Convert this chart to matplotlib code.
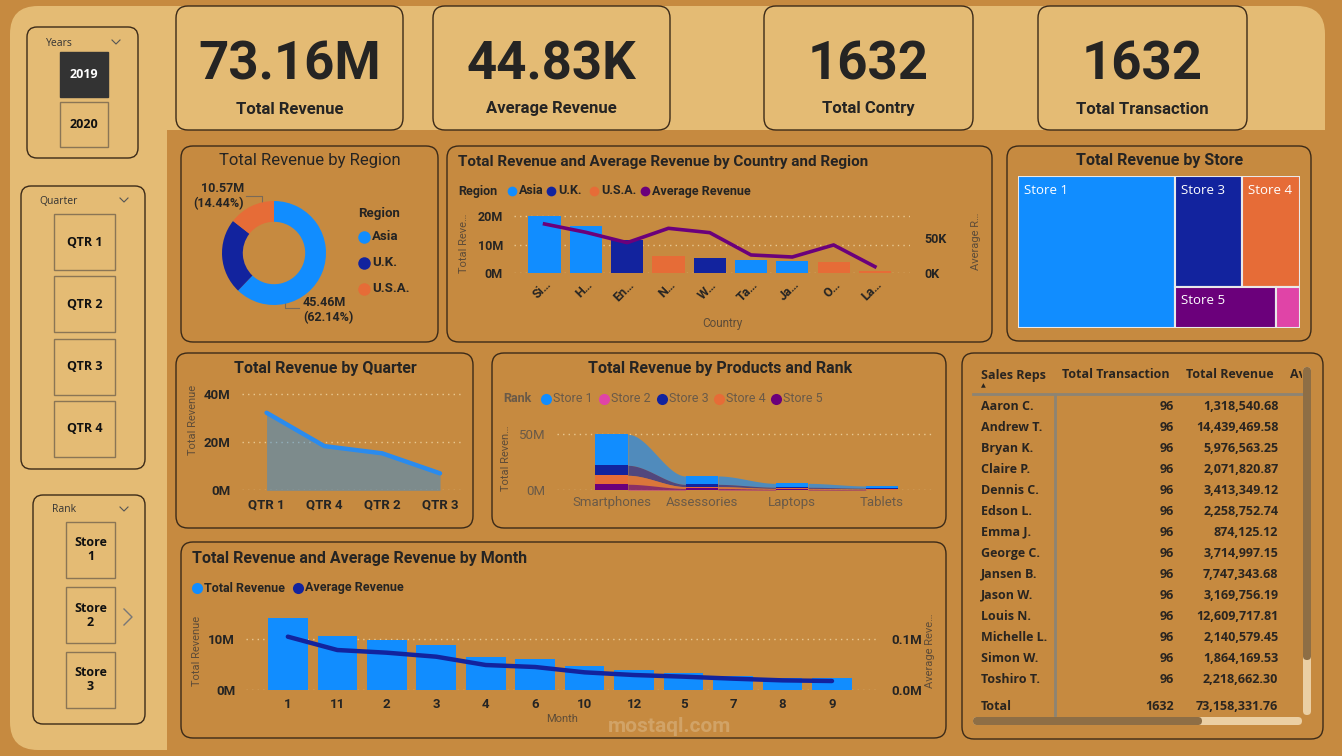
import numpy as np
import matplotlib
matplotlib.use("Agg")
import matplotlib.pyplot as plt
from matplotlib.patches import FancyBboxPatch, Rectangle
from matplotlib.transforms import Bbox, TransformedBbox

# ---------------- data ----------------
kpi_values = ["73.16M", "44.83K", "1632", "1632"]
kpi_labels = ["Total Revenue", "Average Revenue", "Total Contry", "Total Transaction"]

years = ["2019", "2020"]
quarter_buttons = ["QTR 1", "QTR 2", "QTR 3", "QTR 4"]
rank_buttons = ["Store\n1", "Store\n2", "Store\n3"]

regions = ["Asia", "U.K.", "U.S.A."]
region_revenue = [45.458, 17.132, 10.566]  # millions

countries = ["Si…", "H…", "En…", "N…", "W…", "Ta…", "Ja…", "O…", "La…"]
country_region = ["Asia", "Asia", "U.K.", "U.S.A.", "U.K.", "Asia", "Asia", "U.S.A.", "U.S.A."]
country_revenue = [20.0, 16.5, 11.6, 6.0, 5.5, 4.7, 4.4, 3.8, 0.9]      # millions
country_avg = [70.5, 58.6, 43.8, 64.3, 58.1, 26.2, 23.3, 40.5, 9.5]     # thousands

stores = ["Store 1", "Store 3", "Store 4", "Store 5", "Store 2"]
store_revenue = [40.73, 12.69, 10.99, 7.07, 1.68]

quarters = ["QTR 1", "QTR 4", "QTR 2", "QTR 3"]
quarter_revenue = [32.3, 18.4, 15.4, 7.06]

products = ["Smartphones", "Assessories", "Laptops", "Tablets"]
rank_names = ["Store 1", "Store 2", "Store 3", "Store 4", "Store 5"]
store1_products = [27.7, 7.5, 3.5, 2.0]
store2_products = [0.6, 0.5, 0.3, 0.2]
store3_products = [8.9, 2.0, 1.0, 0.8]
store4_products = [8.0, 1.6, 0.8, 0.5]
store5_products = [4.8, 1.2, 0.6, 0.4]

months = ["1", "11", "2", "3", "4", "6", "10", "12", "5", "7", "8", "9"]
month_revenue = [13.96, 10.45, 9.74, 8.70, 6.49, 5.97, 4.68, 3.90, 3.25, 2.79, 2.34, 2.27]  # millions
month_avg = [103.9, 77.9, 72.7, 64.9, 48.7, 44.8, 34.4, 29.2, 26.0, 22.1, 18.8, 17.5]       # thousands

sales_reps = ["Aaron C.", "Andrew T.", "Bryan K.", "Claire P.", "Dennis C.", "Edson L.", "Emma J.",
              "George C.", "Jansen B.", "Jason W.", "Louis N.", "Michelle L.", "Simon W.", "Toshiro T."]
rep_transactions = [96, 96, 96, 96, 96, 96, 96, 96, 96, 96, 96, 96, 96, 96]
rep_revenue = [1318540.68, 14439469.58, 5976563.25, 2071820.87, 3413349.12, 2258752.74, 874125.12,
               3714997.15, 7747343.68, 3169756.19, 12609717.81, 2140579.45, 1864169.53, 2218662.30]
total_transactions = 1632
total_revenue = 73158331.76

# ---------------- style ----------------
W, H = 1342, 756
BG = "#C68A40"
LIGHT = "#E4BB74"
DARK = "#252423"
EDGE = "#3B2A18"
GRAY = "#5E4C38"
GRID = "#E8C891"
C_ASIA, C_UK, C_USA = "#118DFF", "#12239E", "#E66C37"
C_PURPLE, C_PINK = "#6B007B", "#E044A7"
region_colors = {"Asia": C_ASIA, "U.K.": C_UK, "U.S.A.": C_USA}
store_colors = {"Store 1": C_ASIA, "Store 2": C_PINK, "Store 3": C_UK, "Store 4": C_USA, "Store 5": C_PURPLE}
TF = ["Roboto", "DejaVu Sans"]
SF = ["Open Sans", "DejaVu Sans"]

fig = plt.figure(figsize=(W / 100, H / 100), dpi=100, facecolor=BG)
bg = fig.add_axes([0, 0, 1, 1])
bg.set_xlim(0, W)
bg.set_ylim(H, 0)
bg.axis("off")


def rbox(x0, y0, x1, y1, r=10, fc=BG, ec=EDGE, lw=1.0, z=2):
    p = FancyBboxPatch((x0 + r, y0 + r), x1 - x0 - 2 * r, y1 - y0 - 2 * r,
                       boxstyle=f"round,pad={r}", fc=fc, ec=ec, lw=lw, zorder=z)
    bg.add_patch(p)


def axpx(x0, y0, x1, y1):
    a = fig.add_axes([x0 / W, 1 - y1 / H, (x1 - x0) / W, (y1 - y0) / H])
    a.set_facecolor("none")
    for s in a.spines.values():
        s.set_visible(False)
    return a


def txt(x, y, s, size=10, weight="normal", color=DARK, ha="left", va="center", family=TF, **kw):
    return bg.text(x, y, s, fontsize=size, fontweight=weight, color=color, ha=ha, va=va,
                   family=family, zorder=kw.pop("zorder", 6), **kw)


def dot(x, y, c, ms=7):
    bg.plot([x], [y], "o", color=c, ms=ms, mec="none", zorder=6)


def style_axis(a, size=9, weight="bold", color=DARK, family=TF):
    a.tick_params(length=0, labelsize=size, labelcolor=color)
    for lab in a.get_xticklabels() + a.get_yticklabels():
        lab.set_fontweight(weight)
        lab.set_family(family)


# ---------------- backgrounds ----------------
rbox(10, 6, 1325, 750, r=28, fc=LIGHT, ec="none", z=1)
bg.add_patch(Rectangle((167, 130), W - 167, H - 130, fc=BG, ec="none", zorder=1.5))

# KPI cards
kpi_x = [(176, 403), (433, 670), (764, 973), (1038, 1247)]
for (x0, x1), v, lab in zip(kpi_x, kpi_values, kpi_labels):
    rbox(x0, 6, x1, 130, r=12, fc=LIGHT)
    cx = (x0 + x1) / 2
    txt(cx, 65, v, size=38, weight="bold", ha="center")
    txt(cx, 109, lab, size=12, weight="bold", ha="center")


def chevron_down(x, y):
    bg.plot([x - 4, x, x + 4], [y - 2, y + 2, y - 2], color="#555", lw=0.8, zorder=6)


# Years slicer
rbox(27, 27, 138, 158, r=10, fc=LIGHT)
txt(46, 43, "Years", size=7.5, color="#333", family=SF)
chevron_down(116, 42)
for i, yv in enumerate(years):
    top = 52 + i * 50
    sel = i == 0
    bg.add_patch(Rectangle((60, top), 48, 45, fc="#333333" if sel else LIGHT,
                           ec="#333333" if sel else "#8A7555", lw=1, zorder=3))
    txt(84, top + 23, yv, size=9, weight="bold", color="white" if sel else "#111", ha="center", family=SF)

# Quarter slicer
rbox(21, 186, 145, 469, r=10, fc=LIGHT)
txt(39, 201, "Quarter", size=7.5, color="#333", family=SF)
chevron_down(124, 200)
for i, q in enumerate(quarter_buttons):
    top = 214 + i * 62.3
    bg.add_patch(Rectangle((54, top), 61, 56, fc=LIGHT, ec="#8A7555", lw=1, zorder=3))
    txt(84.5, top + 28, q, size=9, weight="bold", color="#111", ha="center", family=SF)

# Rank slicer
rbox(33, 495, 145, 724, r=10, fc=LIGHT)
txt(52, 510, "Rank", size=7.5, color="#333", family=SF)
chevron_down(124, 509)
for i, rname in enumerate(rank_buttons):
    top = 522 + i * 65
    bg.add_patch(Rectangle((66, top), 49, 56, fc=LIGHT, ec="#8A7555", lw=1, zorder=3))
    txt(90.5, top + 28, rname, size=9, weight="bold", color="#111", ha="center", family=SF,
        linespacing=1.1)
bg.plot([124, 132, 124], [609, 617, 625], color="#777", lw=1, zorder=6)

# chart cards
for box in [(181, 146, 438, 342), (447, 146, 992, 342), (1007, 146, 1311, 341),
            (176, 353, 473, 528), (492, 353, 946, 528), (181, 542, 946, 738),
            (962, 353, 1323, 739)]:
    rbox(*box, r=12, fc=BG)

# ---------------- donut: revenue by region ----------------
txt(310, 161, "Total Revenue by Region", size=12, ha="center")
ax = axpx(222, 201, 326, 305)
ax.pie(region_revenue, colors=[region_colors[r] for r in regions], startangle=90,
       counterclock=False, wedgeprops=dict(width=0.4, edgecolor="none"), radius=1)
ax.set_xlim(-1, 1)
ax.set_ylim(-1, 1)
tot = sum(region_revenue)
lab_usa = f"{region_revenue[2]:.2f}M\n({region_revenue[2] / tot * 100:.2f}%)"
lab_asia = f"{region_revenue[0]:.2f}M\n({region_revenue[0] / tot * 100:.2f}%)"
txt(244, 196, lab_usa, size=9, weight="bold", ha="right", linespacing=1.15)
txt(303, 310, lab_asia, size=9, weight="bold", ha="left", linespacing=1.15)
bg.plot([246, 262, 262], [196, 196, 202], color="#7A6A58", lw=0.8, zorder=6)
bg.plot([285, 285, 299], [303, 308, 308], color="#7A6A58", lw=0.8, zorder=6)
txt(358, 214, "Region", size=9.5, weight="bold")
for r, yy in zip(regions, [237, 263, 289]):
    dot(364, yy, region_colors[r], ms=9)
    txt(372, yy, r, size=9.5, weight="bold")

# ---------------- country chart ----------------
txt(458, 162, "Total Revenue and Average Revenue by Country and Region", size=11, weight="bold")
txt(458, 191, "Region", size=9, weight="bold")
leg = [("Asia", C_ASIA, 512, 519), ("U.K.", C_UK, 551, 558), ("U.S.A.", C_USA, 594, 601),
       ("Average Revenue", C_PURPLE, 645, 652)]
for lab, c, dx, tx in leg:
    dot(dx, 191, c, ms=7)
    txt(tx, 191, lab, size=9, weight="bold")
ax = axpx(514, 205, 910, 273.3)
x = np.arange(len(countries))
ax.bar(x, country_revenue, width=0.78, color=[region_colors[r] for r in country_region], zorder=2)
ax.set_xlim(-0.74, 8.85)
ax.set_ylim(0, 23.84)
ax.set_yticks([0, 10, 20])
ax.set_yticklabels(["0M", "10M", "20M"])
ax.set_xticks(x)
ax.set_xticklabels(countries, rotation=45, ha="right", rotation_mode="anchor")
ax.yaxis.grid(True, ls=(0, (1, 3)), color=GRID, lw=1)
ax.set_axisbelow(True)
style_axis(ax)
ax.tick_params(axis="y", pad=8)
ax2 = ax.twinx()
for s in ax2.spines.values():
    s.set_visible(False)
ax2.plot(x, country_avg, color=C_PURPLE, lw=2.6, solid_joinstyle="round", zorder=3)
ax2.set_ylim(0, 97.6)
ax2.set_yticks([0, 50])
ax2.set_yticklabels(["0K", "50K"])
style_axis(ax2)
ax2.tick_params(axis="y", pad=10)
txt(464, 243, "Total Reve…", size=8, color=GRAY, rotation=90, ha="center")
txt(976, 241, "Average R…", size=8, color=GRAY, rotation=90, ha="center")
txt(722, 324, "Country", size=8.5, color=GRAY, ha="center")

# ---------------- treemap ----------------
txt(1160, 161, "Total Revenue by Store", size=11.5, weight="bold", ha="center")
ax = axpx(1018, 176, 1300, 328)
ax.set_xlim(0, 1)
ax.set_ylim(1, 0)
ax.axis("off")
tm_total = sum(store_revenue)
w0 = store_revenue[0] / tm_total
rects = [(stores[0], 0, 0, w0, 1)]
rest = tm_total - store_revenue[0]
rows = [[1, 2], [3, 4]]
ycur = 0
for row in rows:
    rsum = sum(store_revenue[i] for i in row)
    h = rsum / rest
    xcur = w0
    for i in row:
        w = (1 - w0) * store_revenue[i] / rsum
        rects.append((stores[i], xcur, ycur, w, h))
        xcur += w
    ycur += h
for name, rx, ry, rw, rh in rects:
    ax.add_patch(Rectangle((rx, ry), rw, rh, fc=store_colors[name], ec="#E9E9E9", lw=1.5))
    if rw * 282 > 40:
        ax.text(rx + 6 / 282, ry + 14 / 152, name, color="white", fontsize=9.5, family=SF,
                ha="left", va="center")

# ---------------- quarter area ----------------
txt(325, 369, "Total Revenue by Quarter", size=11.5, weight="bold", ha="center")
ax = axpx(241.7, 388, 461.7, 490.3)
xq = np.arange(len(quarters))
ax.fill_between(xq, quarter_revenue, color=C_ASIA, alpha=0.4, lw=0, zorder=2)
ax.plot(xq, quarter_revenue, color="#2A8BEE", lw=3.2, solid_capstyle="round", zorder=3)
ax.set_xlim(-0.43, 3.375)
ax.set_ylim(0, 42.6)
ax.set_yticks([0, 20, 40])
ax.set_yticklabels(["0M", "20M", "40M"])
ax.set_xticks(xq)
ax.set_xticklabels(quarters)
ax.yaxis.grid(True, ls=(0, (1, 3)), color=GRID, lw=1)
ax.set_axisbelow(True)
style_axis(ax, size=9.5)
ax.tick_params(axis="y", pad=8)
ax.tick_params(axis="x", pad=6)
txt(193, 420, "Total Revenue", size=8, color=GRAY, rotation=90, ha="center")

# ---------------- products ribbon ----------------
txt(720, 369, "Total Revenue by Products and Rank", size=11.5, weight="bold", ha="center")
txt(503, 399, "Rank", size=9, weight="bold", color="#6A5A48")
for nm, dx in zip(rank_names, [546, 604, 662, 719, 776]):
    dot(dx, 399, store_colors[nm], ms=8)
    txt(dx + 7, 399, nm, size=9, color="#6A5A48")
ax = axpx(556.7, 425, 933.3, 490.3)
vals = np.array([store1_products, store2_products, store3_products, store4_products, store5_products])
ncat = vals.shape[1]
bottoms = np.zeros_like(vals)
for j in range(ncat):
    order = np.argsort(vals[:, j])
    acc = 0.0
    for i in order:
        bottoms[i, j] = acc
        acc += vals[i, j]
bw = 0.36
for i, nm in enumerate(rank_names):
    c = store_colors[nm]
    ax.bar(np.arange(ncat), vals[i], bottom=bottoms[i], width=bw, color=c, zorder=3)
    for j in range(ncat - 1):
        xs = np.linspace(j + bw / 2, j + 1 - bw / 2, 60)
        t = (xs - xs[0]) / (xs[-1] - xs[0])
        s = 3 * t ** 2 - 2 * t ** 3
        lo = bottoms[i, j] + (bottoms[i, j + 1] - bottoms[i, j]) * s
        hi = lo + vals[i, j] + (vals[i, j + 1] - vals[i, j]) * s
        ax.fill_between(xs, lo, hi, color=c, alpha=0.65, lw=0, zorder=2)
ax.set_xlim(-0.61, 3.57)
ax.set_ylim(0, 58.3)
ax.set_yticks([0, 50])
ax.set_yticklabels(["0M", "50M"])
ax.set_xticks(np.arange(ncat))
ax.set_xticklabels(products)
ax.yaxis.grid(True, ls=(0, (1, 3)), color=GRID, lw=1)
ax.set_axisbelow(True)
style_axis(ax, size=9.5, weight="normal", color="#6A5A48")
ax.tick_params(axis="y", pad=8)
ax.tick_params(axis="x", pad=4)
txt(506, 458, "Total Reven…", size=8, color=GRAY, rotation=90, ha="center")

# ---------------- month chart ----------------
txt(192, 558, "Total Revenue and Average Revenue by Month", size=11.5, weight="bold")
dot(197, 588, C_ASIA, ms=8)
txt(204, 588, "Total Revenue", size=9, weight="bold")
dot(298, 588, C_UK, ms=8)
txt(305, 588, "Average Revenue", size=9, weight="bold")
ax = axpx(246.3, 612, 877.5, 690)
xm = np.arange(len(months))
ax.bar(xm, month_revenue, width=0.8, color=C_ASIA, zorder=2)
ax.set_xlim(-0.84, 11.92)
ax.set_ylim(0, 15.2)
ax.set_yticks([0, 10])
ax.set_yticklabels(["0M", "10M"])
ax.set_xticks(xm)
ax.set_xticklabels(months)
ax.yaxis.grid(True, ls=(0, (1, 3)), color=GRID, lw=1)
ax.set_axisbelow(True)
style_axis(ax, size=9.5)
ax.tick_params(axis="y", pad=8)
ax.tick_params(axis="x", pad=6)
ax2 = ax.twinx()
for s in ax2.spines.values():
    s.set_visible(False)
ax2.plot(xm, month_avg, color=C_UK, lw=3.2, solid_capstyle="round", zorder=3)
ax2.set_ylim(0, 152)
ax2.set_yticks([0, 100])
ax2.set_yticklabels([f"{v / 1000:.1f}M" for v in [0, 100]])
style_axis(ax2, size=9.5)
ax2.tick_params(axis="y", pad=10)
txt(197, 651, "Total Revenue", size=8, color=GRAY, rotation=90, ha="center")
txt(930, 651, "Average Reve…", size=8, color=GRAY, rotation=90, ha="center")
txt(562, 719, "Month", size=8, color=GRAY, ha="center")
txt(670, 727, "mostaql.com", size=15, weight="bold", color="#E8D2B0", ha="center", alpha=0.35)

# ---------------- table ----------------
clip = TransformedBbox(Bbox([[970, 360], [1302, 716]]), bg.transData)
TC = "#2A2520"


def ttext(x, y, s, ha="left", weight="bold", size=9):
    t = txt(x, y, s, size=size, weight=weight, color=TC, ha=ha, family=SF)
    t.set_clip_box(clip)
    t.set_clip_on(True)
    return t


ttext(980.7, 375, "Sales Reps")
ttext(1062.3, 375, "Total Transaction")
ttext(1186, 375, "Total Revenue")
ttext(1290, 375, "Av")
txt(983, 386, "▲", size=4.5, color=TC, ha="center", family=["DejaVu Sans"])
bg.plot([973, 1302], [394.3, 394.3], color="#8C8474", lw=2, zorder=5)
bg.plot([1055, 1055], [394.3, 715], color="#8C8474", lw=2, zorder=5)
for k, (nm, tr, rv) in enumerate(zip(sales_reps, rep_transactions, rep_revenue)):
    yy = 406.3 + k * 21.0
    ttext(980.7, yy, nm)
    ttext(1174.3, yy, f"{tr}", ha="right")
    ttext(1278.3, yy, f"{rv:,.2f}", ha="right")
ttext(980.7, 706.3, "Total")
ttext(1174.3, 706.3, f"{total_transactions}", ha="right")
ttext(1278.3, 706.3, f"{total_revenue:,.2f}", ha="right")
# scrollbars
rbox(1303, 367, 1311, 715, r=4, fc="#EBCFA3", ec="none", z=7)
rbox(1303, 367, 1311, 660, r=4, fc="#8E6E45", ec="none", z=8)
rbox(973, 717, 1302, 725, r=4, fc="#EBCFA3", ec="none", z=7)
rbox(973, 717, 1202, 725, r=4, fc="#8E6E45", ec="none", z=8)

fig.savefig("out.png", dpi=100, facecolor=BG)
